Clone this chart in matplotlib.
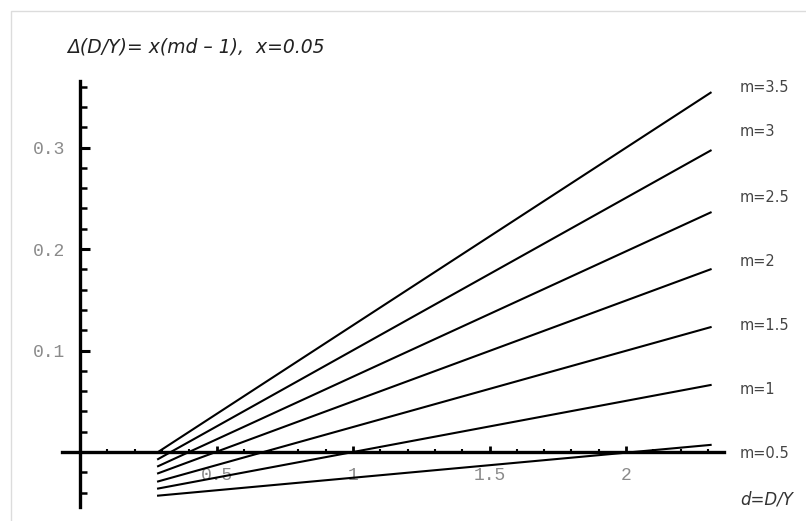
import numpy as np
import matplotlib.pyplot as plt
from matplotlib.patches import Rectangle

# values
m_values = [0.5, 1, 1.5, 2, 2.5, 3, 3.5]
m_labels = ["m=0.5", "m=1", "m=1.5", "m=2", "m=2.5", "m=3", "m=3.5"]
d_start = 0.286
d_end = 2.31
y_start = [-0.043, -0.036, -0.029, -0.021, -0.014, -0.007, 0.0]
y_end = [0.007, 0.066, 0.123, 0.180, 0.236, 0.297, 0.354]

x_major = [0.5, 1, 1.5, 2]
x_major_labels = ["0.5", "1", "1.5", "2"]
y_major = [0.1, 0.2, 0.3]
y_major_labels = ["0.1", "0.2", "0.3"]

# layout: where the right-hand labels sit
label_x = 2.418
label_y = [-0.001, 0.062, 0.125, 0.188, 0.251, 0.316, 0.359]

W, H = 806, 521
fig = plt.figure(figsize=(W / 100, H / 100), dpi=100)
fig.patch.set_facecolor("white")

# axes box in pixels: x 40..800, y 30..515 (from top)
ax = fig.add_axes([40 / W, (H - 515) / H, 760 / W, 485 / H])
ax.set_facecolor("none")
ax.set_xlim((40 - 80) / 273, (800 - 80) / 273)
ax.set_ylim((452 - 515) / 1015, (452 - 30) / 1015)

for ys, ye in zip(y_start, y_end):
    ax.plot([d_start, d_end], [ys, ye], color="black", lw=1.5,
            solid_capstyle="projecting")

for s in ["top", "right"]:
    ax.spines[s].set_visible(False)
ax.spines["left"].set_position(("data", 0))
ax.spines["bottom"].set_position(("data", 0))
ax.spines["left"].set_bounds(-0.054, 0.366)
ax.spines["bottom"].set_bounds(-0.065, 2.36)
for s in ["left", "bottom"]:
    ax.spines[s].set_linewidth(2.4)
    ax.spines[s].set_color("black")

ax.set_xticks(x_major)
ax.set_xticklabels(x_major_labels)
ax.set_xticks([round(0.1 * i, 1) for i in range(1, 24) if i % 5 != 0], minor=True)
ax.set_yticks(y_major)
ax.set_yticklabels(y_major_labels)
ax.set_yticks([round(0.02 * i, 2) for i in range(-2, 19) if i % 5 != 0 and i != 0],
              minor=True)

mono = dict(family="Liberation Mono", size=13, color="#8a8a8a")
for lab in ax.get_xticklabels() + ax.get_yticklabels():
    lab.set_fontfamily(mono["family"])
    lab.set_fontsize(mono["size"])
    lab.set_color(mono["color"])

ax.tick_params(axis="x", which="major", direction="in", length=4, width=2, pad=11)
ax.tick_params(axis="x", which="minor", direction="in", length=2.5, width=1.5)
ax.tick_params(axis="y", which="major", direction="in", length=7, width=2.2, pad=11)
ax.tick_params(axis="y", which="minor", direction="in", length=5, width=1.8)

for lab, ly in zip(m_labels, label_y):
    ax.text(label_x, ly, lab, fontsize=10.5, color="#444444",
            ha="left", va="center")

fig.text(67 / W, 1 - 47 / H, "Δ(D/Y)= x(md – 1),  x=0.05", fontsize=13.5,
         style="italic", color="#222222", ha="left", va="center")
fig.text(740 / W, 1 - 500 / H, "d=D/Y", fontsize=12, style="italic",
         color="#333333", ha="left", va="center")

# thin frame seen along the left and top edges
fig.add_artist(Rectangle((11 / W, -0.1), 1.2, (H - 11) / H + 0.1,
                         transform=fig.transFigure, fill=False,
                         edgecolor="#dcdcdc", lw=1))

fig.savefig("out.png", dpi=100)
